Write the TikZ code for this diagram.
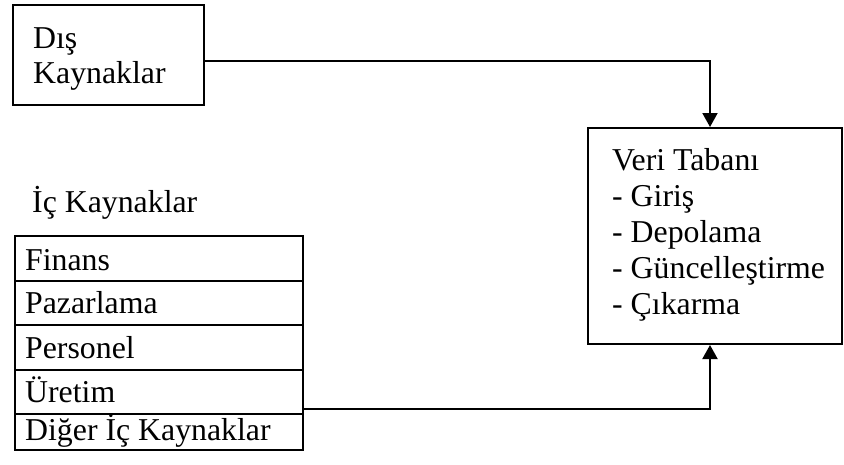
\documentclass[tikz,border=0pt]{standalone}
\usepackage{fontspec}
\setmainfont{Liberation Serif}
\usetikzlibrary{arrows.meta}
\tikzset{
  box/.style={draw, line width=2pt, rectangle, inner sep=0pt},
  lbl/.style={anchor=base west, inner sep=0pt, font=\fontsize{31.8}{36}\selectfont},
  arr/.style={line width=2pt, -{Triangle[width=15pt,length=14pt]}},
}
\begin{document}
\begin{tikzpicture}[x=1pt,y=-1pt]
\useasboundingbox (0,0) rectangle (844,464);
% boxes
\node[box, minimum width=191pt, minimum height=100pt] (dis) at (108.5,55) {};
\node[box, minimum width=254pt, minimum height=216pt] (veri) at (715,236) {};
\node[box, minimum width=288pt, minimum height=45pt] (finans) at (159,258.5) {};
\node[box, minimum width=288pt, minimum height=44pt] (pazar) at (159,303) {};
\node[box, minimum width=288pt, minimum height=45pt] (pers) at (159,347.5) {};
\node[box, minimum width=288pt, minimum height=44pt] (uretim) at (159,392) {};
\node[box, minimum width=288pt, minimum height=36pt] (diger) at (159,432) {};
% texts
\node[lbl] (t1) at (33,48) {Dış};
\node[lbl] (t2) at (33,83) {Kaynaklar};
\node[lbl] (ic) at (32,212) {İç Kaynaklar};
\node[lbl] (v1) at (612,170) {Veri Tabanı};
\node[lbl] (v2) at (612,206) {- Giriş};
\node[lbl] (v3) at (612,242) {- Depolama};
\node[lbl] (v4) at (612,278) {- Güncelleştirme};
\node[lbl] (v5) at (612,314) {- Çıkarma};
\node[lbl] (r1) at (25,270) {Finans};
\node[lbl] (r2) at (25,313) {Pazarlama};
\node[lbl] (r3) at (25,358) {Personel};
\node[lbl] (r4) at (25,402) {Üretim};
\node[lbl] (r5) at (25,440) {Diğer İç Kaynaklar};
% connectors
\draw[arr] ([yshift=-6pt]dis.east) -| ([xshift=-5pt]veri.north);
\draw[arr] ([yshift=-17pt]uretim.east) -| ([xshift=-5pt]veri.south);
\end{tikzpicture}
\end{document}
